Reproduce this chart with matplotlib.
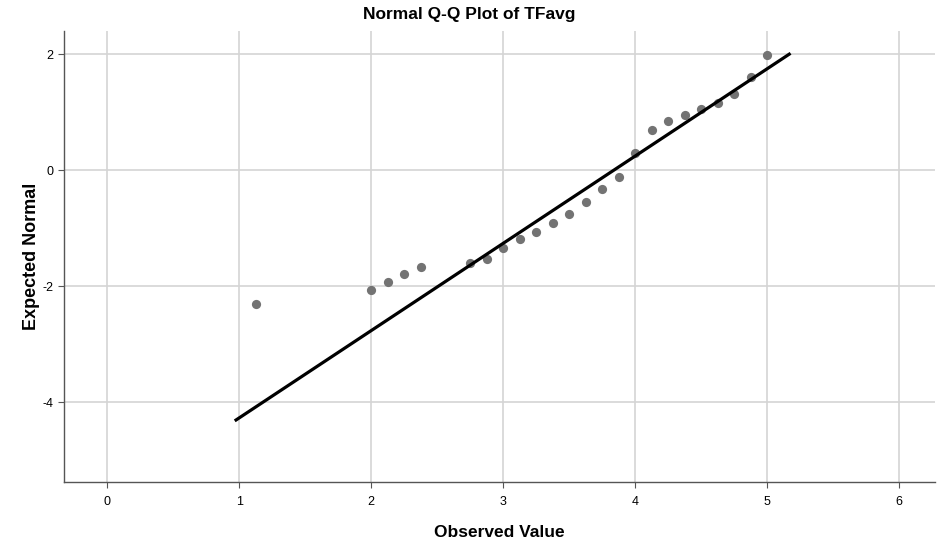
import matplotlib
matplotlib.use("Agg")
import matplotlib.pyplot as plt

plt.rcParams['font.family'] = ['Liberation Sans', 'DejaVu Sans']
plt.rcParams['axes.unicode_minus'] = False

# observed values (x) and expected normal values (y)
observed = [1.125, 2.0, 2.125, 2.25, 2.375, 2.75, 2.875, 3.0, 3.125, 3.25,
            3.375, 3.5, 3.625, 3.75, 3.875, 4.0, 4.125, 4.25, 4.375, 4.5,
            4.625, 4.75, 4.875, 5.0]
expected = [-2.31, -2.06, -1.93, -1.79, -1.67, -1.61, -1.53, -1.34, -1.18, -1.06,
            -0.92, -0.76, -0.55, -0.33, -0.11, 0.29, 0.69, 0.85, 0.95, 1.05,
            1.15, 1.32, 1.60, 1.99]

# reference line endpoints
line_x = [0.977, 5.166]
line_y = [-4.31, 2.0]

xticks = [0, 1, 2, 3, 4, 5, 6]
yticks = [-4, -2, 0, 2]

fig = plt.figure(figsize=(9.38, 5.45), dpi=100)
ax = fig.add_axes([64 / 938, 63 / 545, (935 - 64) / 938, (482 - 31) / 545])

ax.set_xlim(-0.326, 6.27)
ax.set_ylim(-5.38, 2.40)
ax.set_xticks(xticks)
ax.set_yticks(yticks)
ax.grid(True, color='#d4d4d4', linewidth=1.2)
ax.set_axisbelow(True)

ax.scatter(observed, expected, s=44, color='#737373', zorder=3, linewidths=0)
ax.plot(line_x, line_y, color='black', linewidth=2.3, zorder=4)

for side in ['top', 'right']:
    ax.spines[side].set_visible(False)
for side in ['left', 'bottom']:
    ax.spines[side].set_color('#555555')
    ax.spines[side].set_linewidth(1.0)

ax.tick_params(axis='both', labelsize=9, length=4, color='#555555', width=0.8)
ax.tick_params(axis='x', pad=6)

# title is centred on the whole figure
fig.text(0.5, 1 - 15 / 545, 'Normal Q-Q Plot of TFavg', fontsize=12.5,
         fontweight='bold', ha='center', va='center')
ax.set_xlabel('Observed Value', fontsize=12.5, fontweight='bold', labelpad=12)
ax.set_ylabel('Expected Normal', fontsize=13, fontweight='bold', labelpad=2)

fig.savefig('out.png', dpi=100)
